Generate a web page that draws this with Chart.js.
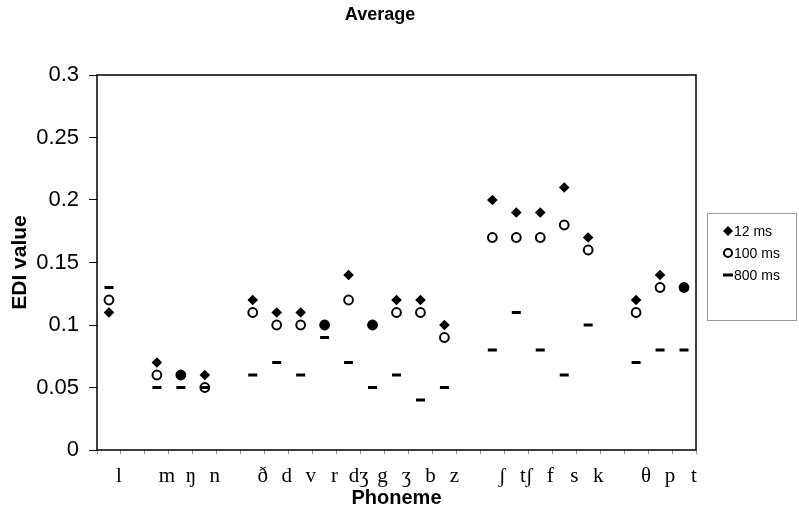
<!DOCTYPE html>
<html><head><meta charset="utf-8">
<script src="https://cdn.jsdelivr.net/npm/chart.js@4.4.0/dist/chart.umd.min.js"></script>
<style>html,body{margin:0;padding:0;background:#fff}#wrap{width:799px;height:508px}</style>
</head><body><div id="wrap"><canvas id="c" width="799" height="508"></canvas></div>
<script>
const phonemes = ['l','', 'm','ŋ','n','', 'ð','d','v','r','dʒ','g','ʒ','b','z','', 'ʃ','tʃ','f','s','k','', 'θ','p','t'];
const ms12  = [0.11,null,0.07,0.06,0.06,null,0.12,0.11,0.11,0.10,0.14,0.10,0.12,0.12,0.10,null,0.20,0.19,0.19,0.21,0.17,null,0.12,0.14,0.13];
const ms100 = [0.12,null,0.06,0.06,0.05,null,0.11,0.10,0.10,0.10,0.12,0.10,0.11,0.11,0.09,null,0.17,0.17,0.17,0.18,0.16,null,0.11,0.13,0.13];
const ms800 = [0.13,null,0.05,0.05,0.05,null,0.06,0.07,0.06,0.09,0.07,0.05,0.06,0.04,0.05,null,0.08,0.11,0.08,0.06,0.10,null,0.07,0.08,0.08];
const yTicks = [0, 0.05, 0.1, 0.15, 0.2, 0.25, 0.3];
const seriesNames = ['12 ms', '100 ms', '800 ms'];
const chartTitle = 'Average';

const SANS = "'Liberation Sans', Arial, sans-serif";
const SERIF = "'Liberation Serif', 'DejaVu Serif', 'Times New Roman', serif";

const frame = {
  id: 'frame',
  beforeDatasetsDraw(chart) {
    const {ctx, chartArea: a} = chart;
    ctx.save();
    ctx.strokeStyle = '#000';
    ctx.lineWidth = 1.5;
    ctx.strokeRect(a.left, a.top, a.right - a.left, a.bottom - a.top);
    ctx.restore();
  }
};

const topTitle = {
  id: 'topTitle',
  afterDraw(chart) {
    const {ctx} = chart;
    ctx.save();
    ctx.font = "bold 18px " + SANS;
    ctx.fillStyle = '#000';
    ctx.textAlign = 'center';
    ctx.textBaseline = 'middle';
    ctx.fillText(chartTitle, 380, 15);
    ctx.restore();
  }
};

const boxLegend = {
  id: 'boxLegend',
  afterDraw(chart) {
    const {ctx, chartArea: a} = chart;
    const bx = a.right + 11, by = 213, bw = 89, bh = 107;
    ctx.save();
    ctx.strokeStyle = '#999';
    ctx.lineWidth = 1;
    ctx.strokeRect(bx + 0.5, by + 0.5, bw, bh);
    ctx.font = "14px " + SANS;
    ctx.textBaseline = 'middle';
    ctx.textAlign = 'left';
    chart.data.datasets.forEach((ds, i) => {
      const y = by + 18 + i * 22;
      const mx = bx + 21;
      ctx.strokeStyle = '#000';
      ctx.fillStyle = '#000';
      if (ds.pointStyle === 'rectRot') {
        const r = 5;
        ctx.beginPath();
        ctx.moveTo(mx - r, y); ctx.lineTo(mx, y - r); ctx.lineTo(mx + r, y); ctx.lineTo(mx, y + r);
        ctx.closePath(); ctx.fill();
      } else if (ds.pointStyle === 'circle') {
        ctx.beginPath(); ctx.arc(mx, y, 4, 0, Math.PI * 2);
        ctx.fillStyle = '#fff'; ctx.fill();
        ctx.lineWidth = 2; ctx.stroke();
      } else {
        ctx.lineWidth = 3;
        ctx.beginPath(); ctx.moveTo(mx - 5, y); ctx.lineTo(mx + 5, y); ctx.stroke();
      }
      ctx.fillStyle = '#000';
      ctx.fillText(ds.label, bx + 27, y + 1);
    });
    ctx.restore();
  }
};

new Chart(document.getElementById('c'), {
  type: 'line',
  data: {
    labels: phonemes,
    datasets: [
      { label: seriesNames[0], data: ms12, showLine: false, order: 2,
        pointStyle: 'rectRot', pointRadius: 5.3, pointBorderWidth: 0,
        pointBackgroundColor: '#000', pointBorderColor: '#000', borderColor: '#000', backgroundColor: '#000' },
      { label: seriesNames[1], data: ms100, showLine: false, order: 1,
        pointStyle: 'circle', pointRadius: 4.4, pointBorderWidth: 2,
        pointBackgroundColor: (c) => (ms12[c.dataIndex] !== null && ms12[c.dataIndex] === ms100[c.dataIndex]) ? '#000' : '#fff',
        pointBorderColor: '#000', borderColor: '#000', backgroundColor: '#fff' },
      { label: seriesNames[2], data: ms800, showLine: false, order: 0,
        pointStyle: 'line', pointRadius: 4.5, pointBorderWidth: 3,
        pointBorderColor: '#000', borderColor: '#000', backgroundColor: '#000' }
    ]
  },
  options: {
    responsive: false,
    animation: false,
    devicePixelRatio: 1,
    layout: { padding: { left: 0, right: 103, top: 75, bottom: 0 } },
    plugins: {
      legend: { display: false },
      tooltip: { enabled: false },
      title: { display: false }
    },
    scales: {
      x: {
        type: 'category',
        offset: true,
        grid: { display: true, offset: true, drawOnChartArea: false, drawTicks: true, tickLength: 4, color: '#999' },
        border: { display: false },
        ticks: { color: '#000', font: { family: SERIF, size: 21 }, padding: 10, labelOffset: 10, maxRotation: 0, autoSkip: false },
        title: { display: true, text: 'Phoneme', color: '#000', font: { family: SANS, size: 20, weight: 'bold', lineHeight: 1 }, padding: { top: 0, bottom: 0 } },
        afterFit(s) { s.height = 58; }
      },
      y: {
        min: 0, max: 0.3,
        afterBuildTicks(s) { s.ticks = yTicks.map(v => ({ value: v })); },
        grid: { display: true, drawOnChartArea: false, drawTicks: true, tickLength: 8, color: '#000' },
        border: { display: false },
        ticks: { color: '#000', font: { family: SANS, size: 22 }, padding: 10,
          callback: (v) => String(Number(v.toFixed(2))) },
        title: { display: true, text: 'EDI value', color: '#000', font: { family: SANS, size: 21, weight: 'bold', lineHeight: 1.2 }, padding: { top: 8, bottom: 0 } },
        afterFit(s) { s.width = 97; }
      }
    }
  },
  plugins: [frame, topTitle, boxLegend]
});
</script>
</body></html>
